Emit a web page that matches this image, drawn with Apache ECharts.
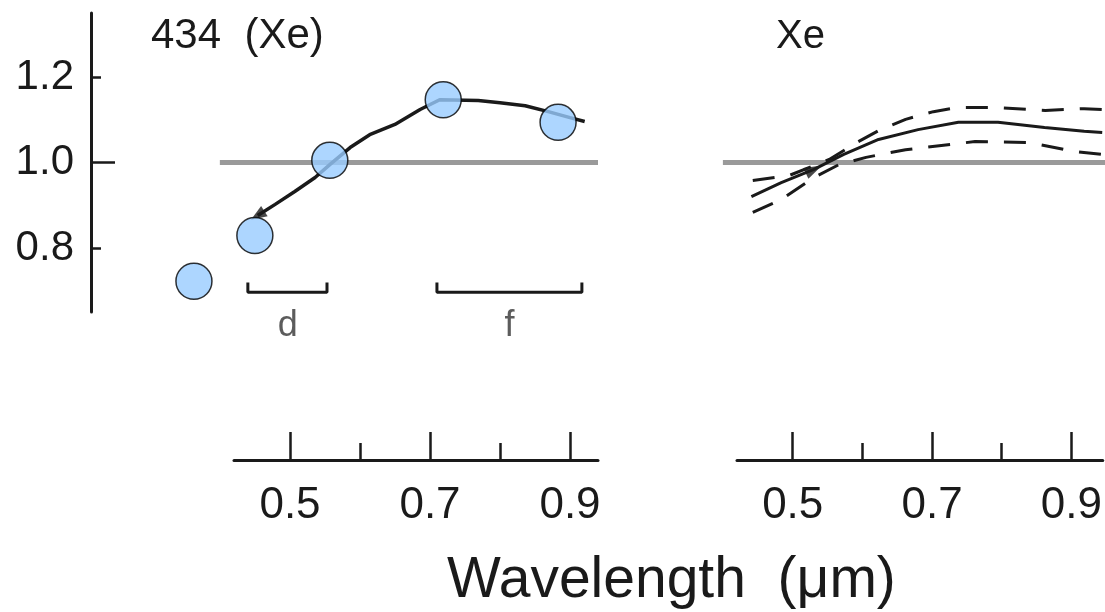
<!DOCTYPE html>
<html>
<head>
<meta charset="utf-8">
<script src="https://cdn.jsdelivr.net/npm/echarts@6/dist/echarts.min.js"></script>
<style>
html, body { margin: 0; padding: 0; background: #fff; }
#c_chart { width: 1105px; height: 612px; }
</style>
</head>
<body>
<div id="c_chart"></div>
<script>
// tick labels
var yTicks = [0.8, 1.0, 1.2];
var xMajor = [0.5, 0.7, 0.9];
var xMinor = [0.6, 0.8];

// left panel: 434 (Xe)
var circles = [[0.363, 0.722], [0.45, 0.829], [0.557, 1.005], [0.719, 1.147], [0.883, 1.094]];
var trace434 = [[0.454, 0.876], [0.479, 0.902], [0.507, 0.932], [0.536, 0.965], [0.557, 0.995],
  [0.586, 1.035], [0.614, 1.065], [0.65, 1.089], [0.686, 1.124], [0.714, 1.147],
  [0.769, 1.145], [0.8, 1.14], [0.836, 1.133], [0.869, 1.119], [0.9, 1.105], [0.921, 1.096]];
var refLeft = [[0.4, 1.0], [0.94, 1.0]];
var bracketD = [[0.44, 0.719], [0.44, 0.696], [0.553, 0.696], [0.553, 0.719]];
var bracketF = [[0.71, 0.719], [0.71, 0.696], [0.917, 0.696], [0.917, 0.719]];
var bracketLabels = [[0.497, 0.696, 'd'], [0.8135, 0.696, 'f']];

// right panel: Xe
var refRight = [[0.4, 1.0], [0.95, 1.0]];
var xeMid = [[0.441, 0.92], [0.484, 0.953], [0.531, 0.984], [0.574, 1.019], [0.624, 1.054],
  [0.681, 1.077], [0.739, 1.094], [0.796, 1.094], [0.863, 1.082], [0.92, 1.073], [0.946, 1.07]];
var xeUpper = [[0.443, 0.958], [0.496, 0.97], [0.553, 1.007], [0.593, 1.047], [0.627, 1.077],
  [0.663, 1.101], [0.703, 1.119], [0.739, 1.129], [0.786, 1.129], [0.864, 1.122], [0.92, 1.126], [0.946, 1.124]];
var xeLower = [[0.443, 0.883], [0.484, 0.913], [0.531, 0.965], [0.567, 0.995], [0.606, 1.012],
  [0.663, 1.03], [0.763, 1.049], [0.839, 1.047], [0.906, 1.026], [0.946, 1.019]];

var dm = document.getElementById('c_chart');
var ch = echarts.init(dm);
var ink = '#1a1a1a';
var fmt = function (v) { return v.toFixed(1); };

function bottomAxes(grid, min, max) {
    return [{
        gridIndex: grid, type: 'value', min: min, max: max, position: 'bottom',
        axisLine: { lineStyle: { color: ink, width: 3 } },
        axisTick: { inside: true, length: 28, customValues: xMajor, lineStyle: { color: ink, width: 2.5 } },
        axisLabel: { customValues: xMajor, formatter: fmt, margin: 24, fontSize: 44, color: ink, fontFamily: 'Liberation Sans' },
        splitLine: { show: false }
    }, {
        gridIndex: grid, type: 'value', min: min, max: max, position: 'bottom', offset: 0,
        axisLine: { show: false },
        axisTick: { inside: true, length: 17, customValues: xMinor, lineStyle: { color: ink, width: 2.5 } },
        axisLabel: { show: false },
        splitLine: { show: false }
    }];
}

var option = {
    animation: false,
    title: [
        { text: '434  (Xe)', left: 146, top: 10, textStyle: { fontSize: 42, fontWeight: 'normal', color: ink, fontFamily: 'Liberation Sans' } },
        { text: 'Xe', left: 771, top: 12, textStyle: { fontSize: 40, fontWeight: 'normal', color: ink, fontFamily: 'Liberation Sans' } },
        { text: 'Wavelength  (\u03bcm)', left: 442, top: 548, textStyle: { fontSize: 57, fontWeight: 'normal', color: ink, fontFamily: 'Liberation Sans' } }
    ],
    grid: [
        { left: 91, top: 13, width: 507, height: 299 },
        { left: 234, top: 440, width: 364, height: 20 },
        { left: 709, top: 13, width: 399, height: 299 },
        { left: 737, top: 440, width: 367.5, height: 20 }
    ],
    xAxis: [
        { gridIndex: 0, type: 'value', min: 0.216, max: 0.94, show: false },
        { gridIndex: 2, type: 'value', min: 0.38, max: 0.95, show: false }
    ].concat(bottomAxes(1, 0.42, 0.94), bottomAxes(3, 0.42, 0.945)),
    yAxis: [
        {
            gridIndex: 0, type: 'value', min: 0.65, max: 1.35,
            axisLine: { show: true, lineStyle: { color: ink, width: 3 } },
            axisTick: { show: true, inside: true, length: 10, customValues: [0.8, 1.2], lineStyle: { color: ink, width: 2.5 } },
            axisLabel: { customValues: yTicks, formatter: fmt, margin: 17, fontSize: 42, color: ink, fontFamily: 'Liberation Sans' },
            splitLine: { show: false }
        },
        {
            gridIndex: 0, type: 'value', min: 0.65, max: 1.35, position: 'left', offset: 0,
            axisLine: { show: false },
            axisTick: { show: true, inside: true, length: 24, customValues: [1.0], lineStyle: { color: ink, width: 2.5 } },
            axisLabel: { show: false },
            splitLine: { show: false }
        },
        { gridIndex: 2, type: 'value', min: 0.65, max: 1.35, show: false },
        { gridIndex: 1, type: 'value', min: 0, max: 1, show: false },
        { gridIndex: 3, type: 'value', min: 0, max: 1, show: false }
    ],
    series: [
        {
            name: 'ref434', type: 'line', xAxisIndex: 0, yAxisIndex: 0, data: refLeft,
            symbol: 'none', lineStyle: { color: '#9a9a9a', width: 5 }, z: 1
        },
        {
            name: 'refXe', type: 'line', xAxisIndex: 1, yAxisIndex: 2, data: refRight,
            symbol: 'none', lineStyle: { color: '#9a9a9a', width: 5 }, z: 1
        },
        {
            name: 'trace434', type: 'line', xAxisIndex: 0, yAxisIndex: 0, data: trace434,
            symbol: 'none', lineStyle: { color: ink, width: 3.5 }, z: 2
        },
        {
            name: 'arrow434', type: 'scatter', xAxisIndex: 0, yAxisIndex: 0, data: [trace434[0]],
            symbol: 'triangle', symbolSize: [12, 16], symbolRotate: 123, itemStyle: { color: ink }, z: 2
        },
        {
            name: 'bracketD', type: 'line', xAxisIndex: 0, yAxisIndex: 0, data: bracketD,
            symbol: 'none', lineStyle: { color: ink, width: 3 }, clip: false
        },
        {
            name: 'bracketF', type: 'line', xAxisIndex: 0, yAxisIndex: 0, data: bracketF,
            symbol: 'none', lineStyle: { color: ink, width: 3 }, clip: false
        },
        {
            name: 'bracketLabels', type: 'scatter', xAxisIndex: 0, yAxisIndex: 0, data: bracketLabels,
            symbolSize: 0, clip: false,
            label: {
                show: true, position: 'bottom', distance: 16, fontSize: 36, color: '#333', fontFamily: 'Liberation Sans',
                formatter: function (p) { return p.data[2]; }
            }
        },
        {
            name: 'circles', type: 'scatter', xAxisIndex: 0, yAxisIndex: 0, data: circles,
            symbolSize: 36, clip: false,
            itemStyle: { color: '#99ccff', borderColor: '#000', borderWidth: 1.5 }, z: 5
        },
        {
            name: 'xeMid', type: 'line', xAxisIndex: 1, yAxisIndex: 2, data: xeMid,
            symbol: 'none', lineStyle: { color: ink, width: 3 }, z: 2
        },
        {
            name: 'xeUpper', type: 'line', xAxisIndex: 1, yAxisIndex: 2, data: xeUpper,
            symbol: 'none', lineStyle: { color: ink, width: 3, type: [22, 16] }, z: 2
        },
        {
            name: 'xeLower', type: 'line', xAxisIndex: 1, yAxisIndex: 2, data: xeLower,
            symbol: 'none', lineStyle: { color: ink, width: 3, type: [22, 16] }, z: 2
        },
        {
            name: 'arrowXe', type: 'scatter', xAxisIndex: 1, yAxisIndex: 2, data: [xeMid[2]],
            symbol: 'triangle', symbolSize: [12, 18], symbolRotate: -64, itemStyle: { color: ink }, z: 3
        }
    ]
};

ch.setOption(option);
window.onresize = function () {
    ch.resize();
};
</script>
</body>
</html>
